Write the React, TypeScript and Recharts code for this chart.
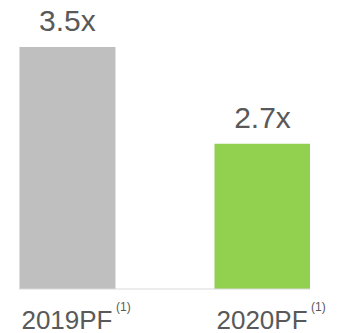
import React from 'react';
import { BarChart, Bar, XAxis, YAxis, LabelList, Cell } from 'recharts';

const categories = ['2019PF', '2020PF'];
const footnotes = ['(1)', '(1)'];
const values = [3.5, 2.7];
const valueLabels = ['3.5x', '2.7x'];
const colors = ['#BFBFBF', '#92D050'];

const data = categories.map((c, i) => ({ pos: i, name: c, value: values[i], label: valueLabels[i] }));

const FONT = "Arial, 'Liberation Sans', sans-serif";
const TEXT = '#595959';

const Tick = (props: any) => {
  const { x, y, payload } = props;
  const i = payload.value as number;
  return (
    <g>
      <text x={x} y={y + 32} textAnchor="middle" fontSize={26} fill={TEXT} fontFamily={FONT}>
        {categories[i]}
      </text>
      <text x={x + 49} y={y + 14} textAnchor="start" fontSize={12} fill={TEXT} fontFamily={FONT}>
        {footnotes[i]}
      </text>
    </g>
  );
};

export default function App() {
  return (
    <div style={{ position: 'absolute', left: 0, top: 0, width: 345, height: 333, background: '#fff' }}>
      <BarChart width={345} height={333} data={data} margin={{ top: 47, right: 35, bottom: 0, left: 19 }}>
        <XAxis
          dataKey="pos"
          type="number"
          domain={[-0.246, 1.246]}
          ticks={[0, 1]}
          tickLine={false}
          axisLine={{ stroke: '#D9D9D9', strokeWidth: 1 }}
          height={44}
          tick={<Tick />}
          interval={0}
          allowDataOverflow
        />
        <YAxis hide domain={[1.5, 3.5]} allowDataOverflow />
        <Bar dataKey="value" barSize={96} isAnimationActive={false}>
          {data.map((d, i) => (
            <Cell key={i} fill={colors[i]} />
          ))}
          <LabelList
            dataKey="label"
            position="top"
            offset={16}
            fontSize={30}
            fill={TEXT}
            fontFamily={FONT}
          />
        </Bar>
      </BarChart>
    </div>
  );
}
